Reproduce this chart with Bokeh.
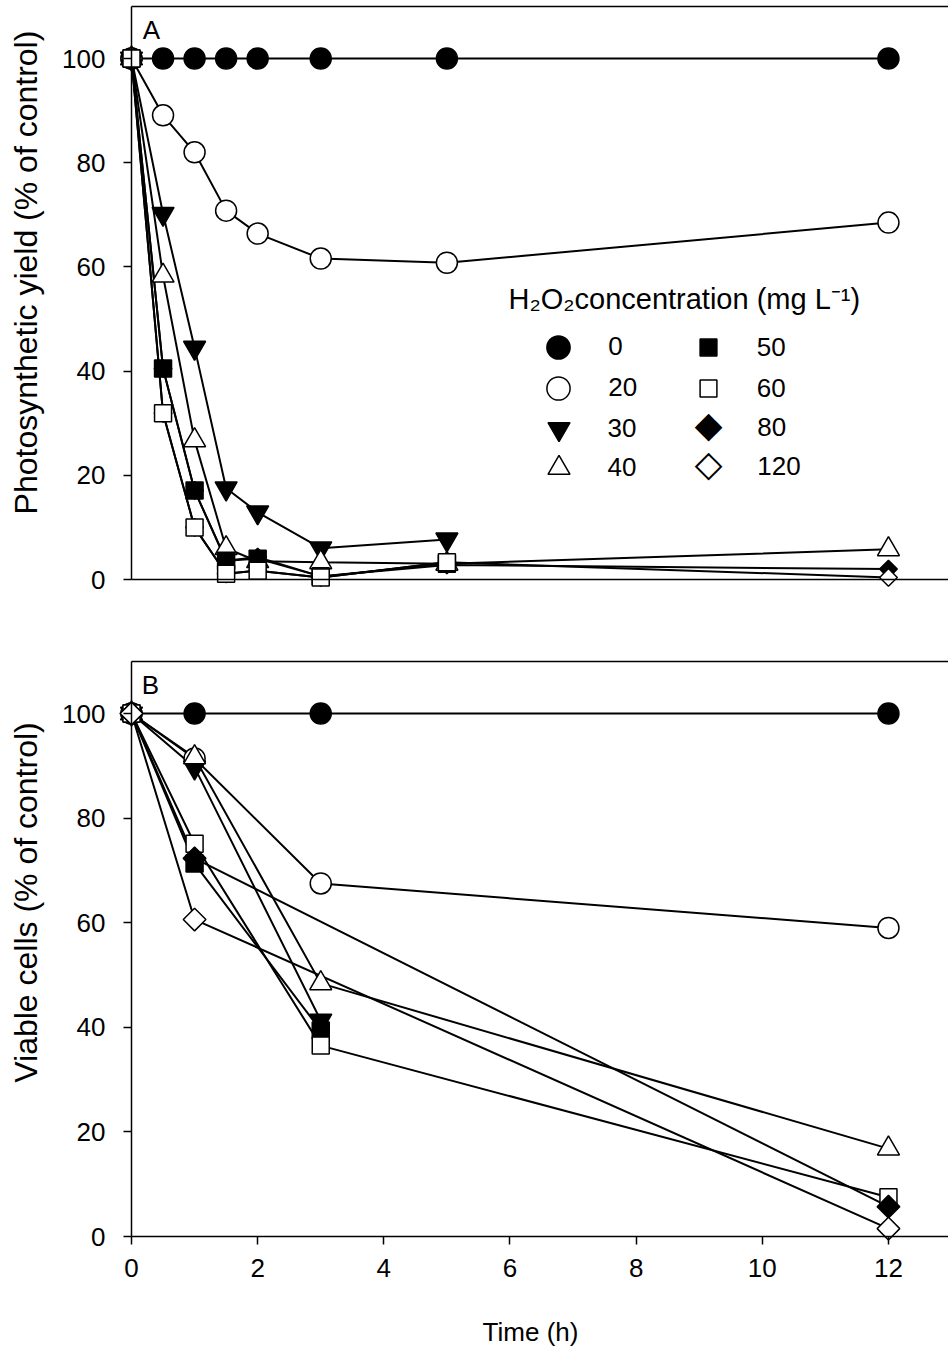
import numpy as np
from bokeh.plotting import figure
from bokeh.models import (LinearAxis, FixedTicker, Range1d, Legend, LegendItem, Label,
                          ColumnDataSource)
from bokeh.layouts import column
from bokeh.embed import file_html
from bokeh.resources import INLINE

FONT = "Liberation Sans"

# ---------------- data ----------------
concentrations = ["0", "20", "30", "40", "50", "60", "80", "120"]

time_a = [0, 0.5, 1, 1.5, 2, 3, 5, 12]
yield_0 = [100, 100, 100, 100, 100, 100, 100, 100]
yield_20 = [100, 89.1, 82.0, 70.8, 66.4, 61.6, 60.8, 68.5]
yield_30 = [100, 70.2, 44.5, 17.5, 12.9, 6.0, 7.7, None]
yield_40 = [100, 58.3, 26.7, 6.0, 3.5, 3.3, 3.0, 5.8]
yield_50 = [100, 40.5, 17.1, 3.6, 4.0, 0.6, 3.0, None]
yield_60 = [100, 31.9, 10.0, 1.1, 1.7, 0.4, 3.3, None]
yield_80 = [100, 40.5, 17.1, 3.6, 4.3, 0.6, 2.8, 2.0]
yield_120 = [100, 31.9, 10.0, 1.1, 1.7, 0.4, 3.3, 0.4]

time_b = [0, 1, 3, 12]
viable_0 = [100, 100, 100, 100]
viable_20 = [100, 91.4, 67.5, 59.0]
viable_30 = [100, 89.7, 41.3, None]
viable_40 = [100, 91.6, 48.4, 16.8]
viable_50 = [100, 71.3, 39.4, None]
viable_60 = [100, 75.1, 36.5, 7.5]
viable_80 = [100, 72.3, None, 5.7]
viable_120 = [100, 60.6, None, 1.5]

x_ticks = [0, 2, 4, 6, 8, 10, 12]
y_ticks = [0, 20, 40, 60, 80, 100]

series_a = dict(zip(concentrations, [yield_0, yield_20, yield_30, yield_40,
                                     yield_50, yield_60, yield_80, yield_120]))
series_b = dict(zip(concentrations, [viable_0, viable_20, viable_30, viable_40,
                                     viable_50, viable_60, viable_80, viable_120]))

# ---------------- styles ----------------
STYLE = {
    "0":   dict(marker="circle", fill="black", size=21, angle=0.0, leg=23),
    "20":  dict(marker="circle", fill="white", size=21, angle=0.0, leg=23),
    "30":  dict(marker="inverted_triangle", fill="black", size=22, angle=0.0, leg=22),
    "40":  dict(marker="triangle", fill="white", size=22, angle=0.0, leg=22),
    "50":  dict(marker="square", fill="black", size=17, angle=0.0, leg=17),
    "60":  dict(marker="square", fill="white", size=17, angle=0.0, leg=17),
    "80":  dict(marker="square", fill="black", size=16, angle=np.pi / 4, leg=None,
                sym="\u25c6"),
    "120": dict(marker="square", fill="white", size=16, angle=np.pi / 4, leg=None,
                sym="\u25c7"),
}
# in panel A the diamonds sit underneath the squares; keep them a touch smaller there
SIZE_OVERRIDE_A = {"80": 12.5, "120": 12.5}

FIG_W = 948
# pixel geometry of the panels (frame = whole figure)
X0_PX, X_PX_PER_UNIT = 131.0, 63.08          # x = 0 at 131 px, 63.08 px per hour
X_RANGE = (-X0_PX / X_PX_PER_UNIT, (FIG_W - X0_PX) / X_PX_PER_UNIT)
X_END = X_RANGE[1]

A_TOP, A_H = 0, 597
A_ZERO, A_PPU = 579.0, 5.21
B_TOP, B_H = 597, 749
B_ZERO, B_PPU = 1236.0, 5.23

TICK_FONT = "26px"


def px_to_x(px):
    return (px - X0_PX) / X_PX_PER_UNIT


def py_to_y(py, zero, ppu):
    return (zero - py) / ppu


def points(t, v):
    xs = [ti for ti, vi in zip(t, v) if vi is not None]
    ys = [vi for vi in v if vi is not None]
    return xs, ys


def style_axis(ax):
    ax.axis_line_width = 1.5
    ax.axis_line_color = "black"
    ax.major_tick_line_width = 1.5
    ax.major_tick_line_color = "black"
    ax.major_tick_out = 8
    ax.major_tick_in = 0
    ax.minor_tick_line_color = None
    ax.major_label_text_font = FONT
    ax.major_label_text_font_size = TICK_FONT
    ax.major_label_text_color = "black"


def make_panel(top_px, height, zero, ppu, with_x_ticks):
    y_range = (py_to_y(top_px + height, zero, ppu), py_to_y(top_px, zero, ppu))
    p = figure(width=FIG_W, height=height,
               x_range=Range1d(*X_RANGE), y_range=Range1d(*y_range),
               x_axis_type=None, y_axis_type=None,
               output_backend="svg", toolbar_location=None,
               min_border_left=0, min_border_right=0,
               min_border_top=0, min_border_bottom=0)
    p.outline_line_color = None
    p.border_fill_color = "white"

    yax = LinearAxis(ticker=FixedTicker(ticks=y_ticks), fixed_location=0, bounds=(0, 110))
    style_axis(yax)
    yax.major_label_standoff = 18
    p.add_layout(yax, "left")

    top = LinearAxis(ticker=FixedTicker(ticks=[]), fixed_location=110, bounds=(0, X_END))
    style_axis(top)
    p.add_layout(top, "above")

    if with_x_ticks:
        xax = LinearAxis(ticker=FixedTicker(ticks=x_ticks), fixed_location=0,
                         bounds=(0, X_END))
        style_axis(xax)
        xax.major_label_standoff = 14
    else:
        xax = LinearAxis(ticker=FixedTicker(ticks=[]), fixed_location=0, bounds=(0, X_END))
        style_axis(xax)
    p.add_layout(xax, "below")
    return p


def draw_series(p, t, series, order, size_override=None):
    size_override = size_override or {}
    renderers = {}
    for c in order:
        xs, ys = points(t, series[c])
        p.line(xs, ys, line_color="black", line_width=2)
    for c in order:
        xs, ys = points(t, series[c])
        st = STYLE[c]
        src = ColumnDataSource(dict(x=xs, y=ys))
        r = p.scatter("x", "y", source=src, marker=st["marker"],
                      size=size_override.get(c, st["size"]),
                      angle=st["angle"], fill_color=st["fill"], line_color="black",
                      line_width=1.5)
        renderers[c] = r
    return renderers


def text_label(p, px, py, zero, ppu, text, size, align="center", angle=0.0,
               font=FONT):
    p.add_layout(Label(x=px_to_x(px), y=py_to_y(py, zero, ppu), text=text,
                       angle=angle, text_align=align, text_baseline="middle",
                       text_font=font, text_font_size=size, text_color="black"))


# ---------------- panel A ----------------
pA = make_panel(A_TOP, A_H, A_ZERO, A_PPU, False)
rend_a = draw_series(pA, time_a, series_a,
                     ["80", "120", "0", "20", "30", "40", "50", "60"],
                     SIZE_OVERRIDE_A)

text_label(pA, 151, 29, A_ZERO, A_PPU, "A", "26px")
text_label(pA, 25, 272, A_ZERO, A_PPU, "Photosynthetic yield (% of control)", "32px",
           angle=np.pi / 2)
text_label(pA, 508, 298, A_ZERO, A_PPU,
           "H\u2082O\u2082concentration (mg L\u207b\u00b9)", "29px", align="left")

# legend: one Legend per entry for exact placement (frame = whole figure)
col_cx = [558, 708]
col_tx = [608, 757]
row_cy = [347, 388, 428, 467]
for i, c in enumerate(concentrations):
    col, row = divmod(i, 4)
    st = STYLE[c]
    cx, cy, tx = col_cx[col], row_cy[row], col_tx[col]
    if st["leg"] is not None:
        gw = st["leg"] / 0.4
        rend = rend_a[c]
    else:
        gw = 19 / 0.4
        # invisible legend glyph; the diamond sample is drawn as a text symbol
        rend = pA.scatter(x=[], y=[], marker="square", fill_alpha=0, line_alpha=0)
        text_label(pA, cx, cy - 4, A_ZERO, A_PPU, st["sym"], "36px", font="DejaVu Sans")
    leg = Legend(items=[LegendItem(label=c, renderers=[rend])],
                 location=(cx - gw / 2, A_H - (cy + gw / 2)),
                 glyph_width=int(round(gw)), glyph_height=int(round(gw)),
                 label_standoff=int(round(tx - (cx + gw / 2))),
                 label_text_font=FONT, label_text_font_size="26px",
                 label_text_color="black", label_text_baseline="middle",
                 padding=0, margin=0, spacing=0,
                 border_line_color=None, background_fill_alpha=0)
    pA.add_layout(leg, "center")

# ---------------- panel B ----------------
pB = make_panel(B_TOP, B_H, B_ZERO, B_PPU, True)
draw_series(pB, time_b, series_b, concentrations)

text_label(pB, 150, 684, B_ZERO, B_PPU, "B", "26px")
text_label(pB, 25, 902, B_ZERO, B_PPU, "Viable cells (% of control)", "32px",
           angle=np.pi / 2)
text_label(pB, 530, 1331, B_ZERO, B_PPU, "Time (h)", "26px")

layout = column(pA, pB, spacing=0)
open("out.html", "w").write(file_html(layout, INLINE))
